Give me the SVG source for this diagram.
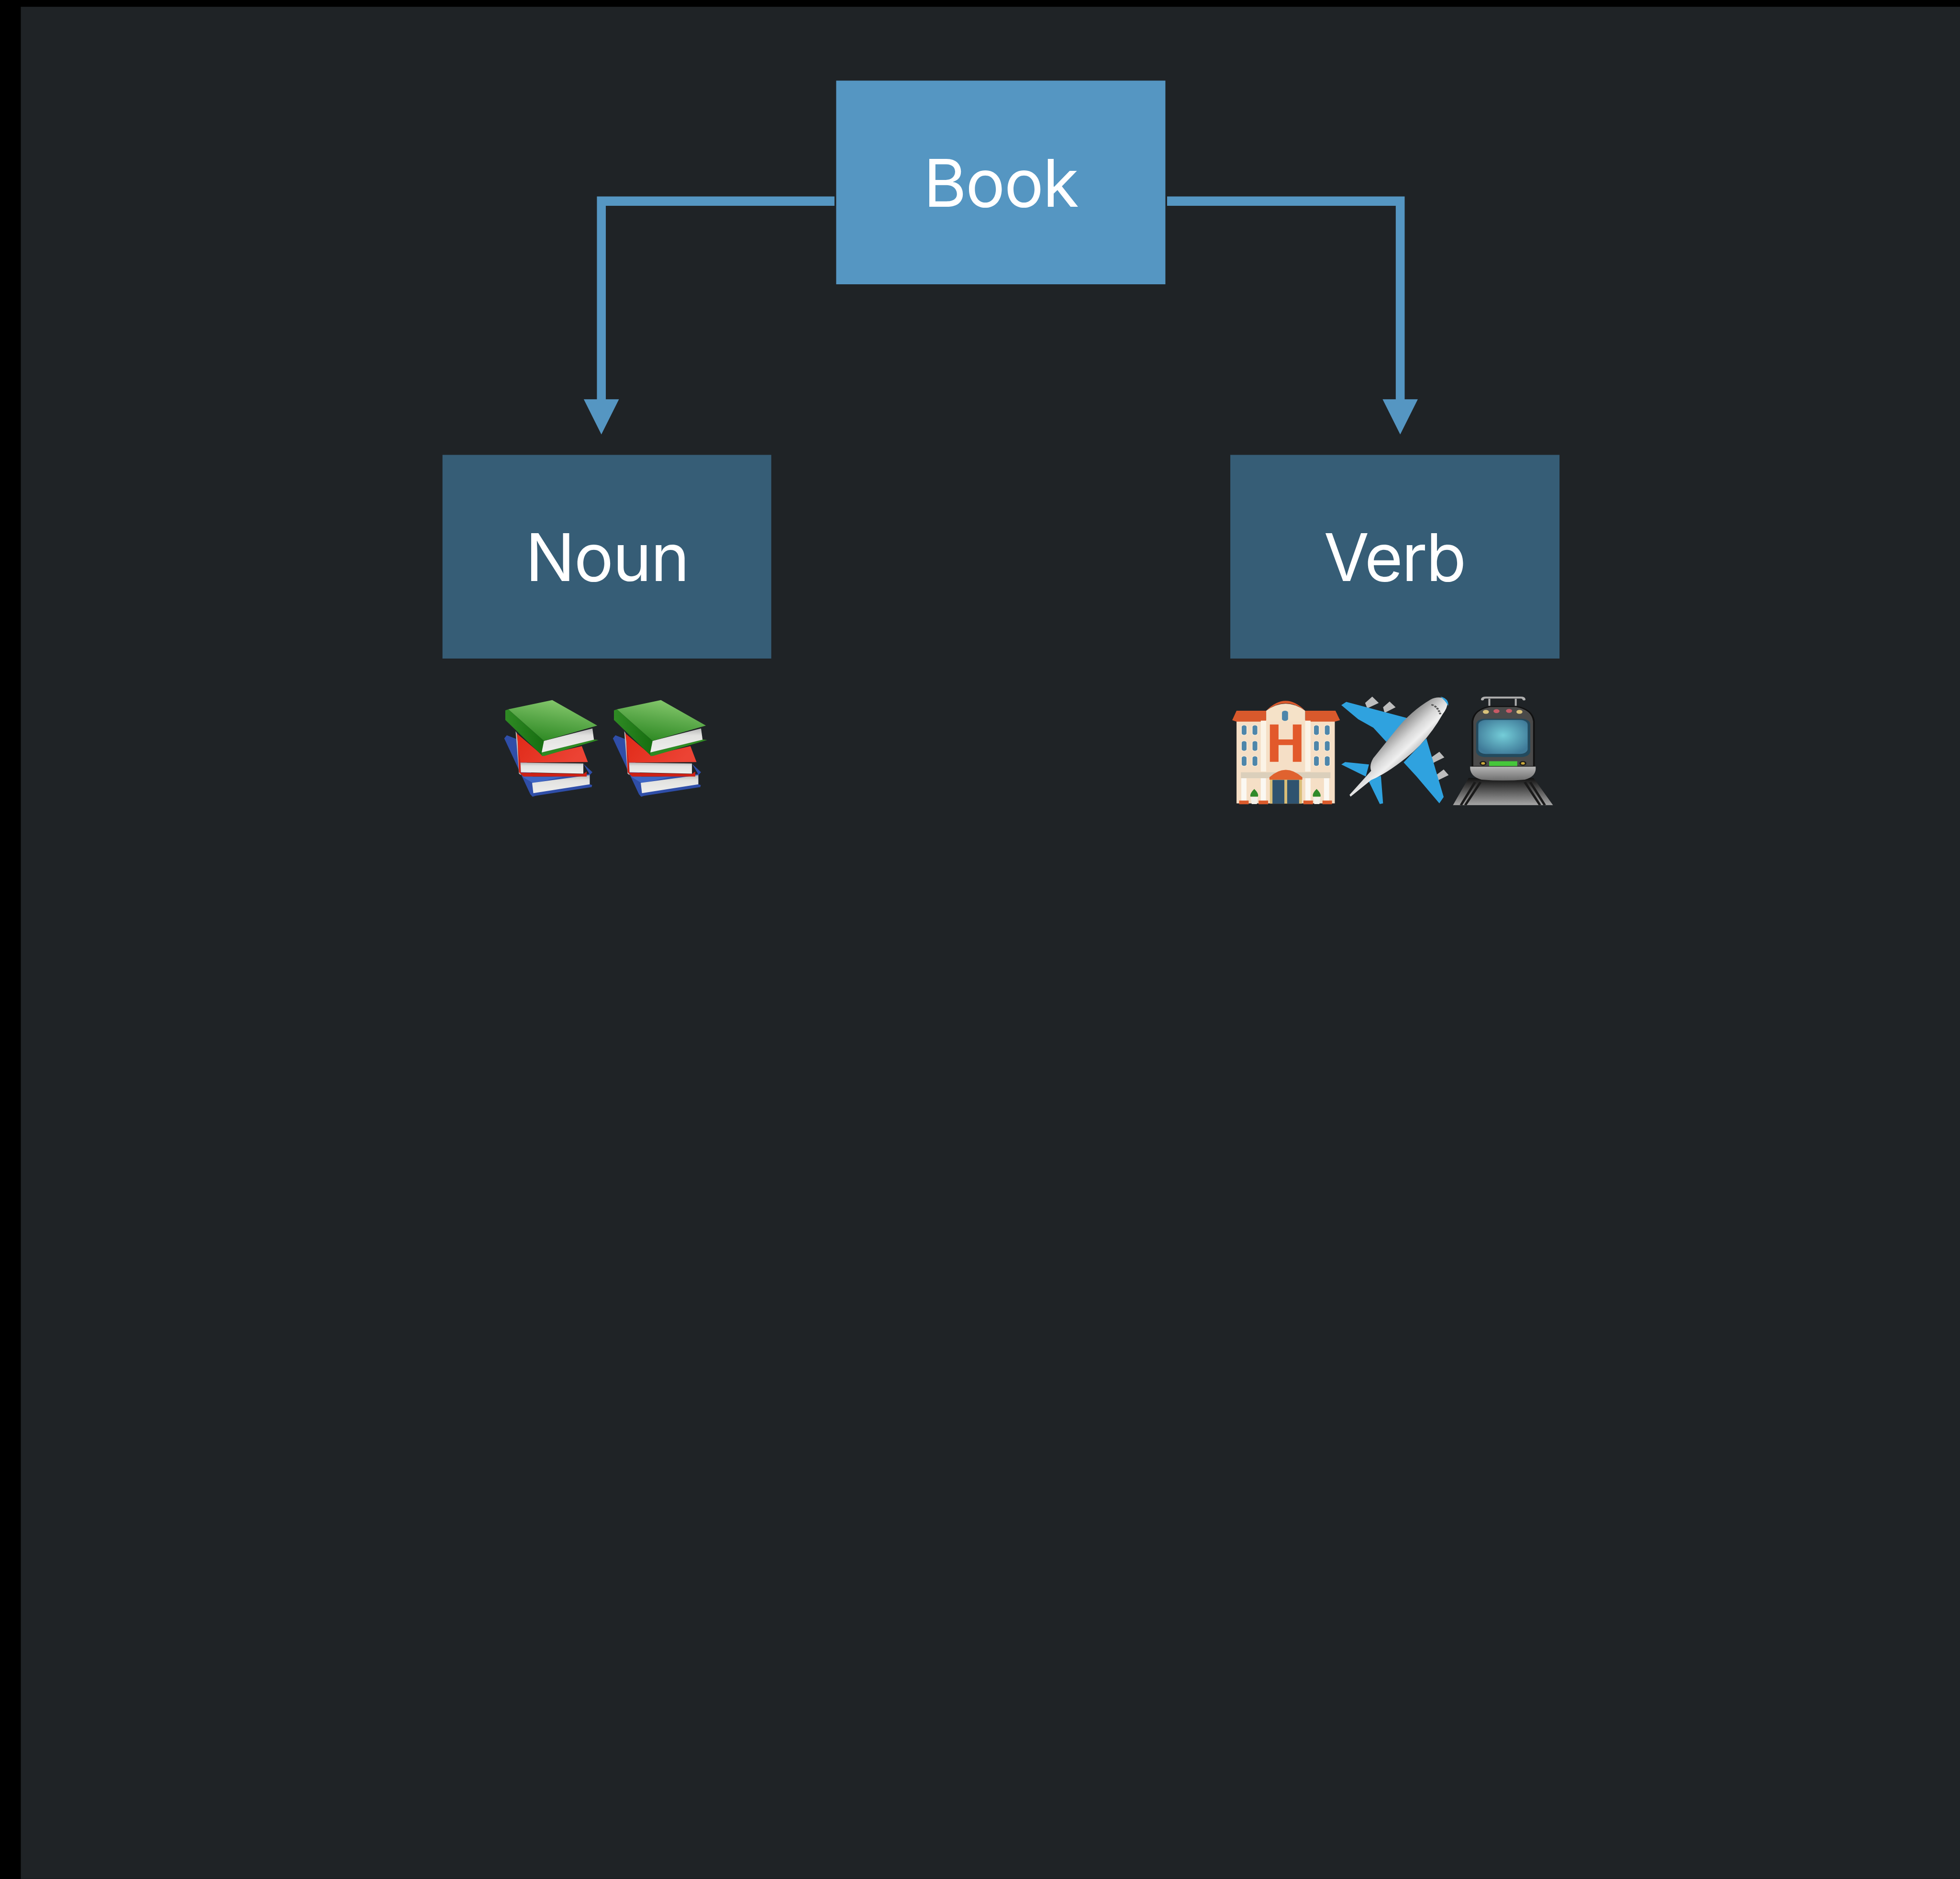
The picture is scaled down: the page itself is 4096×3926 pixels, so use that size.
<svg xmlns="http://www.w3.org/2000/svg" xmlns:xlink="http://www.w3.org/1999/xlink" width="4096" height="3926" viewBox="0 0 4096 3926">
<style>
.lbl{font-family:"Inter","Liberation Sans",sans-serif;font-size:155px;fill:#fff;text-anchor:middle}
.con{fill:#5596C2}
.pg{fill:url(#pgG)}
.win{fill:#4E86AA;stroke:#F9EBD8;stroke-width:4}
.wing{fill:#2FA2DF}
.eng{fill:#BDBDBD}
.pylon{fill:none;stroke:#8E8E8E;stroke-width:6}
</style>
<defs>
<linearGradient id="pgG" x1="0" y1="0" x2="0" y2="1"><stop offset="0" stop-color="#B8B8B8"/><stop offset="0.3" stop-color="#E2E2E0"/><stop offset="1" stop-color="#EFEFED"/></linearGradient>
<linearGradient id="gG" x1="0.75" y1="0" x2="0.4" y2="1"><stop offset="0" stop-color="#8ACB70"/><stop offset="0.5" stop-color="#5BA94A"/><stop offset="1" stop-color="#2F8A24"/></linearGradient>
<linearGradient id="gS" x1="0" y1="0" x2="1" y2="0"><stop offset="0" stop-color="#2F8A24"/><stop offset="1" stop-color="#166E10"/></linearGradient>
<linearGradient id="rG" x1="0" y1="0" x2="1" y2="0.3"><stop offset="0" stop-color="#E02A18"/><stop offset="1" stop-color="#EC4334"/></linearGradient>
<linearGradient id="silver" gradientUnits="userSpaceOnUse" x1="770" y1="390" x2="960" y2="520"><stop offset="0" stop-color="#8C8C8C"/><stop offset="0.35" stop-color="#D8D8D8"/><stop offset="0.55" stop-color="#F0F0F0"/><stop offset="0.8" stop-color="#B5B5B5"/><stop offset="1" stop-color="#808080"/></linearGradient>
<radialGradient id="scr" cx="0.5" cy="0.45" r="0.6"><stop offset="0" stop-color="#74CDD8"/><stop offset="1" stop-color="#3F7A98"/></radialGradient>
<linearGradient id="tb" x1="0" y1="0" x2="0" y2="1"><stop offset="0" stop-color="#B5B5B5"/><stop offset="1" stop-color="#6E6E6E"/></linearGradient>
<linearGradient id="tr" x1="0" y1="0" x2="0" y2="1"><stop offset="0" stop-color="#111"/><stop offset="1" stop-color="#A5A5A5"/></linearGradient>
<g id="books">
<path fill="#2F4EA8" d="M108,420L125,398L190,425L300,700L670,672L630,600L690,660L672,680V745L688,750L685,765L315,826L295,833L280,815Z"/>
<path fill="#3F66C4" d="M225,690L500,690L300,738Z"/>
<path class="pg" d="M292,735L672,680V745L300,808Z"/>
<path fill="#BDBDBD" d="M183,370L200,400L218,680L205,670Z"/>
<path fill="#CC2116" d="M195,395L205,660L235,690L652,690V655L630,672L218,662L215,590Z"/>
<path fill="url(#rG)" d="M190,385L360,540L620,475L660,588L215,592Z"/>
<path class="pg" d="M215,592L630,598L630,670L218,660Z"/>
<path fill="url(#gS)" d="M115,222L135,215L370,438L360,545L115,290Z"/>
<path fill="#2E8A22" d="M355,520L700,428L730,432L372,545L355,545Z"/>
<path class="pg" d="M370,438L690,350L700,430L355,520Z"/>
<path fill="url(#gG)" d="M135,215L425,150L722,330L370,438Z"/>
</g>
<rect id="w" class="win" x="0" y="0" width="26" height="72" rx="13"/>
</defs>
<rect width="4096" height="3926" fill="#000"/>
<g transform="scale(0.88658)">
<rect x="49" y="16" width="4571" height="4412" fill="#1F2326"/>
<g id="connectors">
<path class="con" d="M1967,463H1407V941H1376L1417.5,1024L1459,941H1428V485H1967Z"/>
<path class="con" d="M2751,463H3311V941H3342L3300.5,1024L3259,941H3290V485H2751Z"/>
</g>
<g id="node-book"><rect x="1971" y="190" width="776" height="480" fill="#5596C2"/><text class="lbl" x="2359" y="487" letter-spacing="-2">Book</text></g>
<g id="node-noun"><rect x="1043" y="1072" width="775" height="480" fill="#365D76"/><text class="lbl" x="1431" y="1369" letter-spacing="-2">Noun</text></g>
<g id="node-verb"><rect x="2900" y="1072" width="776" height="480" fill="#365D76"/><text class="lbl" x="3287" y="1369" letter-spacing="-3">Verb</text></g>
<g id="emoji-noun" transform="translate(1150,1600) scale(0.35714,0.33333)">
<use xlink:href="#books" href="#books"/>
<use xlink:href="#books" href="#books" x="717"/>
</g>
<g id="emoji-verb" transform="translate(2880,1600) scale(0.5102,0.33333)">
<g id="hotel">
<rect x="68" y="290" width="454" height="590" fill="#F5DFC6"/>
<path fill="#D9592C" d="M48,292L68,225H205Q295,85 385,225H525L546,292L522,302H385V225Q295,120 205,225V302H68Z"/>
<path fill="#F5E2C8" d="M205,300V225Q295,125 385,225V300Z"/>
<rect x="180" y="295" width="25" height="360" fill="#FBF3E6"/><rect x="385" y="295" width="25" height="360" fill="#FBF3E6"/>
<rect x="278" y="225" width="28" height="72" rx="14" fill="#4E86AA"/>
<path fill="#E2592B" d="M222,322H262V428H328V322H368V586H328V468H262V586H222Z"/>
<use href="#w" x="90" y="326"/><use href="#w" x="140" y="326"/><use href="#w" x="424" y="326"/><use href="#w" x="474" y="326"/>
<use href="#w" x="90" y="438"/><use href="#w" x="140" y="438"/><use href="#w" x="424" y="438"/><use href="#w" x="474" y="438"/>
<use href="#w" x="90" y="545"/><use href="#w" x="140" y="545"/><use href="#w" x="424" y="545"/><use href="#w" x="474" y="545"/>
<rect x="88" y="660" width="414" height="42" fill="#DBCFBB"/>
<rect x="90" y="702" width="24" height="165" fill="#FBF8F2"/><rect x="180" y="702" width="24" height="165" fill="#FBF8F2"/><rect x="386" y="702" width="24" height="165" fill="#FBF8F2"/><rect x="472" y="702" width="24" height="165" fill="#FBF8F2"/>
<rect x="222" y="712" width="148" height="170" fill="#D9BE78"/>
<rect x="234" y="714" width="55" height="168" fill="#2F536F"/><rect x="302" y="714" width="55" height="168" fill="#2F536F"/>
<path fill="#E0622F" d="M220,712V695Q295,590 372,695V712Z"/>
<path fill="#2F8A2A" d="M150,778Q172,810 167,832H132Q128,810 150,778Z"/><path fill="#2F8A2A" d="M438,778Q460,810 456,832H421Q416,810 438,778Z"/>
<path fill="#F4F1EA" d="M133,835H167L162,885H138Z"/><path fill="#F4F1EA" d="M422,835H456L451,885H427Z"/>
<rect x="80" y="860" width="44" height="26" fill="#DB5B2C"/><rect x="170" y="860" width="44" height="26" fill="#DB5B2C"/><rect x="377" y="860" width="44" height="26" fill="#DB5B2C"/><rect x="465" y="860" width="44" height="26" fill="#DB5B2C"/>
</g>
<g id="plane">
<path class="pylon" d="M668,208L680,190M748,245L762,225M972,598L985,580M992,720L1005,700"/>
<path class="eng" d="M695,125L725,170L672,208L662,170Z"/>
<path class="eng" d="M775,160L803,200L752,240L745,200Z"/>
<path class="eng" d="M1005,515L1028,555L975,595L968,555Z"/>
<path class="eng" d="M1025,640L1048,680L995,720L990,680Z"/>
<path class="wing" d="M552,185L575,162L860,278L760,445L700,345L630,285Z"/>
<path class="wing" d="M945,420L1025,835L1005,880L900,690L840,590Z"/>
<path class="wing" d="M552,605L570,588L680,605L665,690Z"/>
<path class="wing" d="M676,715L735,685L745,880L730,885Z"/>
<path fill="url(#silver)" d="M1040,150Q1005,115 965,145Q870,230 800,370L700,560Q680,610 690,650L590,820L595,832L690,715Q760,670 850,560Q950,440 1020,250Q1050,190 1040,150Z"/>
<path class="wing" d="M1010,125Q1050,140 1046,190Q1030,150 1010,125Z"/>
<path fill="none" stroke="#555" stroke-width="10" stroke-dasharray="12,6" d="M968,182Q995,190 1010,250"/>
</g>
<g id="train">
<path fill="url(#tr)" d="M1140,700H1440L1530,892H1068Z"/>
<path fill="none" stroke="#1A1A1A" stroke-width="12" d="M1195,730L1125,892M1170,730L1105,892M1400,730L1470,892M1425,730L1492,892"/>
<path fill="none" stroke="#AAA" stroke-width="9" d="M1236,190V140M1358,190V140"/>
<path fill="none" stroke="#AFAFAF" stroke-width="14" stroke-linecap="round" d="M1204,145Q1205,132 1220,132H1382Q1395,132 1396,145"/>
<path fill="#4A4A4A" stroke="#111" stroke-width="8" d="M1158,620V300Q1165,215 1240,195H1360Q1435,215 1442,300V620Z"/>
<rect x="1175" y="282" width="250" height="270" rx="40" fill="#234A5E"/>
<rect x="1185" y="290" width="228" height="240" rx="35" fill="url(#scr)"/>
<circle cx="1220" cy="233" r="14" fill="#D9C27A"/><circle cx="1269" cy="228" r="14" fill="#C85A66"/><circle cx="1327" cy="226" r="14" fill="#C85A66"/><circle cx="1375" cy="233" r="14" fill="#D9C27A"/>
<path fill="url(#tb)" d="M1147,620H1450Q1455,690 1400,712Q1300,725 1200,712Q1145,690 1147,620Z"/>
<rect x="1235" y="582" width="130" height="34" fill="#46C73B"/>
<circle cx="1207" cy="597" r="16" fill="#1A1A1A"/><circle cx="1207" cy="597" r="9" fill="#C9A83B"/>
<circle cx="1391" cy="597" r="16" fill="#1A1A1A"/><circle cx="1391" cy="597" r="9" fill="#C9A83B"/>
</g>
</g>
</g>
</svg>
